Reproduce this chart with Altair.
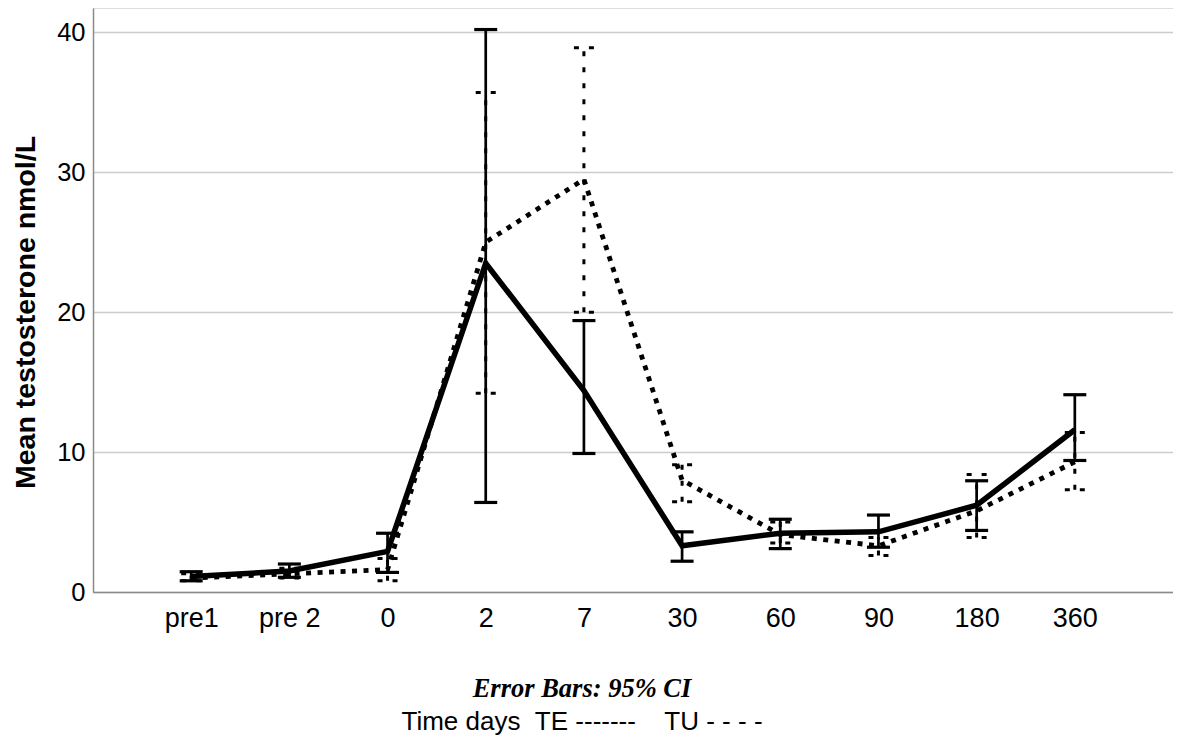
import altair as alt
import pandas as pd

times = ["pre1", "pre 2", "0", "2", "7", "30", "60", "90", "180", "360"]

te_mean = [1.1, 1.5, 2.9, 23.5, 14.4, 3.3, 4.2, 4.3, 6.2, 11.6]
te_lo = [0.8, 1.05, 1.4, 6.4, 9.9, 2.2, 3.1, 3.2, 4.4, 9.4]
te_hi = [1.45, 2.0, 4.2, 40.2, 19.4, 4.3, 5.2, 5.5, 7.95, 14.1]

tu_mean = [1.0, 1.3, 1.6, 25.0, 29.5, 8.0, 4.1, 3.3, 5.8, 9.3]
tu_lo = [0.8, 1.0, 0.8, 14.2, 20.0, 6.45, 3.5, 2.6, 3.9, 7.3]
tu_hi = [1.3, 1.7, 2.4, 35.7, 38.9, 9.1, 5.0, 3.9, 8.4, 11.4]

y_ticks = [0, 10, 20, 30, 40]


def frame(series, mean, lo, hi):
    return pd.DataFrame({"time": times, "series": series, "mean": mean, "lo": lo, "hi": hi})


te = frame("TE", te_mean, te_lo, te_hi)
tu = frame("TU", tu_mean, tu_lo, tu_hi)

FONT = "Liberation Sans"

x_enc = alt.X(
    "time:N",
    sort=times,
    scale=alt.Scale(type="point", padding=1.07),
    axis=alt.Axis(
        title=None, labelAngle=0, ticks=False, grid=False,
        labelFontSize=27, labelFont=FONT, labelColor="black",
        labelPadding=13, domainColor="#8a8a8a", domainWidth=1.5,
    ),
)

y_scale = alt.Scale(domain=[0, 41.74], nice=False)

y_axis = alt.Axis(
    values=y_ticks, grid=True, gridColor="#cccccc", gridWidth=1.5,
    ticks=False, domainColor="#8a8a8a", domainWidth=1.5,
    labelFontSize=25.5, labelFont=FONT, labelColor="black", labelPadding=8,
    title="Mean testosterone nmol/L", titleFont=FONT, titleFontSize=28.5,
    titleFontWeight="bold", titleColor="black",
    titleX=-68, titleY=304, titleAlign="center", titleBaseline="middle",
)


def yq(field):
    return alt.Y(field, type="quantitative", scale=y_scale, axis=y_axis)


# TU (dotted)
tu_bar = alt.Chart(tu).mark_rule(color="black", strokeWidth=3, strokeDash=[5, 11]).encode(
    x=x_enc, y=yq("lo"), y2="hi:Q"
)
tu_cap_hi = alt.Chart(tu).mark_rule(
    color="black", strokeWidth=3, strokeDash=[5, 10], xOffset=-10, x2Offset=10
).encode(x=x_enc, x2=alt.X2("time:N"), y=yq("hi"))
tu_cap_lo = alt.Chart(tu).mark_rule(
    color="black", strokeWidth=3, strokeDash=[5, 10], xOffset=-10, x2Offset=10
).encode(x=x_enc, x2=alt.X2("time:N"), y=yq("lo"))
tu_line = alt.Chart(tu).mark_line(color="black", strokeWidth=4.8, strokeDash=[5, 6.5]).encode(
    x=x_enc, y=yq("mean")
)

# TE (solid)
te_bar = alt.Chart(te).mark_rule(color="black", strokeWidth=2.7).encode(
    x=x_enc, y=yq("lo"), y2="hi:Q"
)
te_cap_hi = alt.Chart(te).mark_rule(
    color="black", strokeWidth=3.2, xOffset=-11.5, x2Offset=11.5
).encode(x=x_enc, x2=alt.X2("time:N"), y=yq("hi"))
te_cap_lo = alt.Chart(te).mark_rule(
    color="black", strokeWidth=3.2, xOffset=-11.5, x2Offset=11.5
).encode(x=x_enc, x2=alt.X2("time:N"), y=yq("lo"))
te_line = alt.Chart(te).mark_line(color="black", strokeWidth=5.5).encode(
    x=x_enc, y=yq("mean")
)

chart = alt.layer(
    tu_line, tu_bar, tu_cap_hi, tu_cap_lo,
    te_bar, te_cap_hi, te_cap_lo, te_line,
).properties(
    width=1080,
    height=584,
    autosize=alt.AutoSizeParams(type="none"),
    padding={"left": 85, "top": 0, "right": 0, "bottom": 150},
    title=alt.Title(
        "Error Bars: 95% CI",
        subtitle="Time days\u00a0\u00a0TE -------\u00a0\u00a0\u00a0 TU - - - -",
        orient="bottom", anchor="middle", frame="group", dx=-51, offset=45,
        font="Liberation Serif", fontSize=26.5, fontStyle="italic", fontWeight="bold",
        color="black", subtitleFont=FONT, subtitleFontSize=26,
        subtitleColor="black", subtitlePadding=6,
    ),
).configure_view(stroke=None).configure(background="white")

chart.save("out.html", embed_options={"renderer": "svg", "actions": False})
